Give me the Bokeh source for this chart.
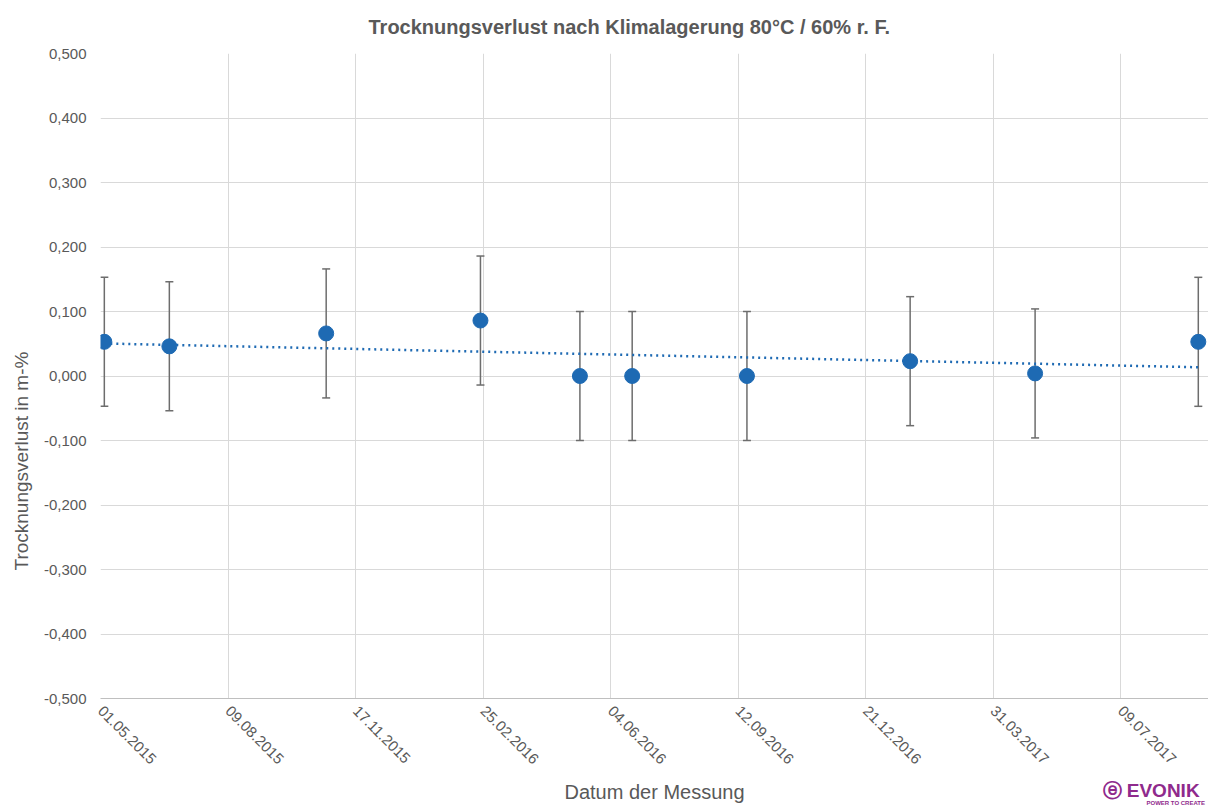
import math
import numpy as np
import pandas as pd
from bokeh.plotting import figure
from bokeh.models import ColumnDataSource, Whisker, TeeHead, FixedTicker, Range1d, Title
from bokeh.embed import file_html
from bokeh.resources import INLINE

# ---------------- data ----------------
dates = ["2015-05-04", "2015-06-24", "2015-10-25", "2016-02-23", "2016-05-11",
         "2016-06-21", "2016-09-19", "2017-01-25", "2017-05-03", "2017-09-08"]
loss = [0.053, 0.046, 0.066, 0.086, 0.000, 0.000, 0.000, 0.023, 0.004, 0.053]
err = [0.100, 0.100, 0.100, 0.100, 0.100, 0.100, 0.100, 0.100, 0.100, 0.100]

x_tick_labels = ["01.05.2015", "09.08.2015", "17.11.2015", "25.02.2016", "04.06.2016",
                 "12.09.2016", "21.12.2016", "31.03.2017", "09.07.2017"]
y_ticks = [-0.5, -0.4, -0.3, -0.2, -0.1, 0.0, 0.1, 0.2, 0.3, 0.4, 0.5]
y_tick_labels = ["-0,500", "-0,400", "-0,300", "-0,200", "-0,100", "0,000",
                 "0,100", "0,200", "0,300", "0,400", "0,500"]

title = "Trocknungsverlust nach Klimalagerung 80°C / 60% r. F."
x_label = "Datum der Messung"
y_label = "Trocknungsverlust in m-%"
logo_text = "ⓔ EVONIK"
logo_sub = "POWER TO CREATE"

TEXT = "#595959"
BLUE = "#1e6ab3"
GRID = "#d9d9d9"
PURPLE = "#8f2a8c"
FONT = "Arial"

def to_ms(ts):
    return (ts - pd.Timestamp("1970-01-01")) / pd.Timedelta(milliseconds=1)

dt = pd.to_datetime(dates)
xs = [to_ms(t) for t in dt]
lo = [v - e for v, e in zip(loss, err)]
hi = [v + e for v, e in zip(loss, err)]
src = ColumnDataSource(dict(x=xs, y=loss, lo=lo, hi=hi))

tick_ts = [pd.to_datetime(s, format="%d.%m.%Y") for s in x_tick_labels]
tick_ms = [to_ms(t) for t in tick_ts]

x_start = tick_ms[0]
x_end = tick_ms[0] + 869 * 86400000.0

p = figure(width=1208, height=805, output_backend="svg", toolbar_location=None,
           x_axis_type="datetime",
           x_range=Range1d(x_start, x_end), y_range=Range1d(-0.5, 0.5),
           min_border_left=100, min_border_right=0, min_border_top=53,
           min_border_bottom=107)
p.outline_line_color = None
p.background_fill_color = "white"

# title
p.title.text = title
p.title.align = "left"
p.title.offset = 268
p.title.vertical_align = "top"
p.title.text_font = FONT
p.title.text_font_size = "20px"
p.title.text_font_style = "bold"
p.title.text_color = TEXT
p.title.text_line_height = 0.8
p.title.standoff = 28

# grids
p.xgrid.ticker = FixedTicker(ticks=tick_ms)
p.ygrid.ticker = FixedTicker(ticks=y_ticks)
p.xgrid.grid_line_color = GRID
p.ygrid.grid_line_color = GRID

# x axis
xa = p.xaxis[0]
xa.ticker = FixedTicker(ticks=tick_ms)
xa.major_label_overrides = {t: s for t, s in zip(tick_ms, x_tick_labels)}
xa.major_label_orientation = -math.pi / 4
xa.major_label_text_font = FONT
xa.major_label_text_font_size = "15px"
xa.major_label_text_color = TEXT
xa.major_tick_line_color = None
xa.major_tick_out = 0
xa.major_tick_in = 0
xa.minor_tick_line_color = None
xa.minor_tick_out = 0
xa.axis_line_color = "#bfbfbf"
xa.major_label_standoff = 10
xa.axis_label = x_label
xa.axis_label_text_font = FONT
xa.axis_label_text_font_size = "20px"
xa.axis_label_text_font_style = "normal"
xa.axis_label_text_color = TEXT
xa.axis_label_standoff = 9

# y axis
ya = p.yaxis[0]
ya.ticker = FixedTicker(ticks=y_ticks)
ya.major_label_overrides = {t: s for t, s in zip(y_ticks, y_tick_labels)}
ya.major_label_text_font = FONT
ya.major_label_text_font_size = "15px"
ya.major_label_text_color = TEXT
ya.major_tick_line_color = None
ya.major_tick_out = 0
ya.major_tick_in = 0
ya.minor_tick_line_color = None
ya.minor_tick_out = 0
ya.axis_line_color = None
ya.major_label_standoff = 14

# y axis title (placed lower than centre, as in the original)
p.add_layout(Title(text=y_label, align="left", offset=128, standoff=17,
                   text_font=FONT, text_font_size="19px", text_font_style="normal",
                   text_color=TEXT), "left")

# logo texts at the bottom right
p.add_layout(Title(text=logo_sub, align="left", offset=1046, standoff=-12,
                   vertical_align="top",
                   text_font=FONT, text_font_size="6px", text_font_style="bold",
                   text_color=PURPLE), "below")
p.add_layout(Title(text=logo_text, align="left", offset=1002, standoff=-52,
                   vertical_align="top",
                   text_font=FONT, text_font_size="19px", text_font_style="bold",
                   text_color=PURPLE), "below")

# error bars
wk = Whisker(source=src, base="x", upper="hi", lower="lo", dimension="height",
             line_color="#6d6d6d", line_width=1.5,
             upper_head=TeeHead(size=8, line_color="#6d6d6d", line_width=1.5),
             lower_head=TeeHead(size=8, line_color="#6d6d6d", line_width=1.5))
p.add_layout(wk)

# linear trend line
days = np.array([(t - dt[0]).days for t in dt], dtype=float)
slope, inter = np.polyfit(days, np.array(loss), 1)
tx = [xs[0], xs[-1]]
ty = [inter, inter + slope * days[-1]]
p.line(tx, ty, line_color=BLUE, line_width=2.5, line_dash="2 4")

# points
p.scatter("x", "y", source=src, size=15, fill_color=BLUE, line_color=BLUE)

open("out.html", "w").write(file_html(p, INLINE))
